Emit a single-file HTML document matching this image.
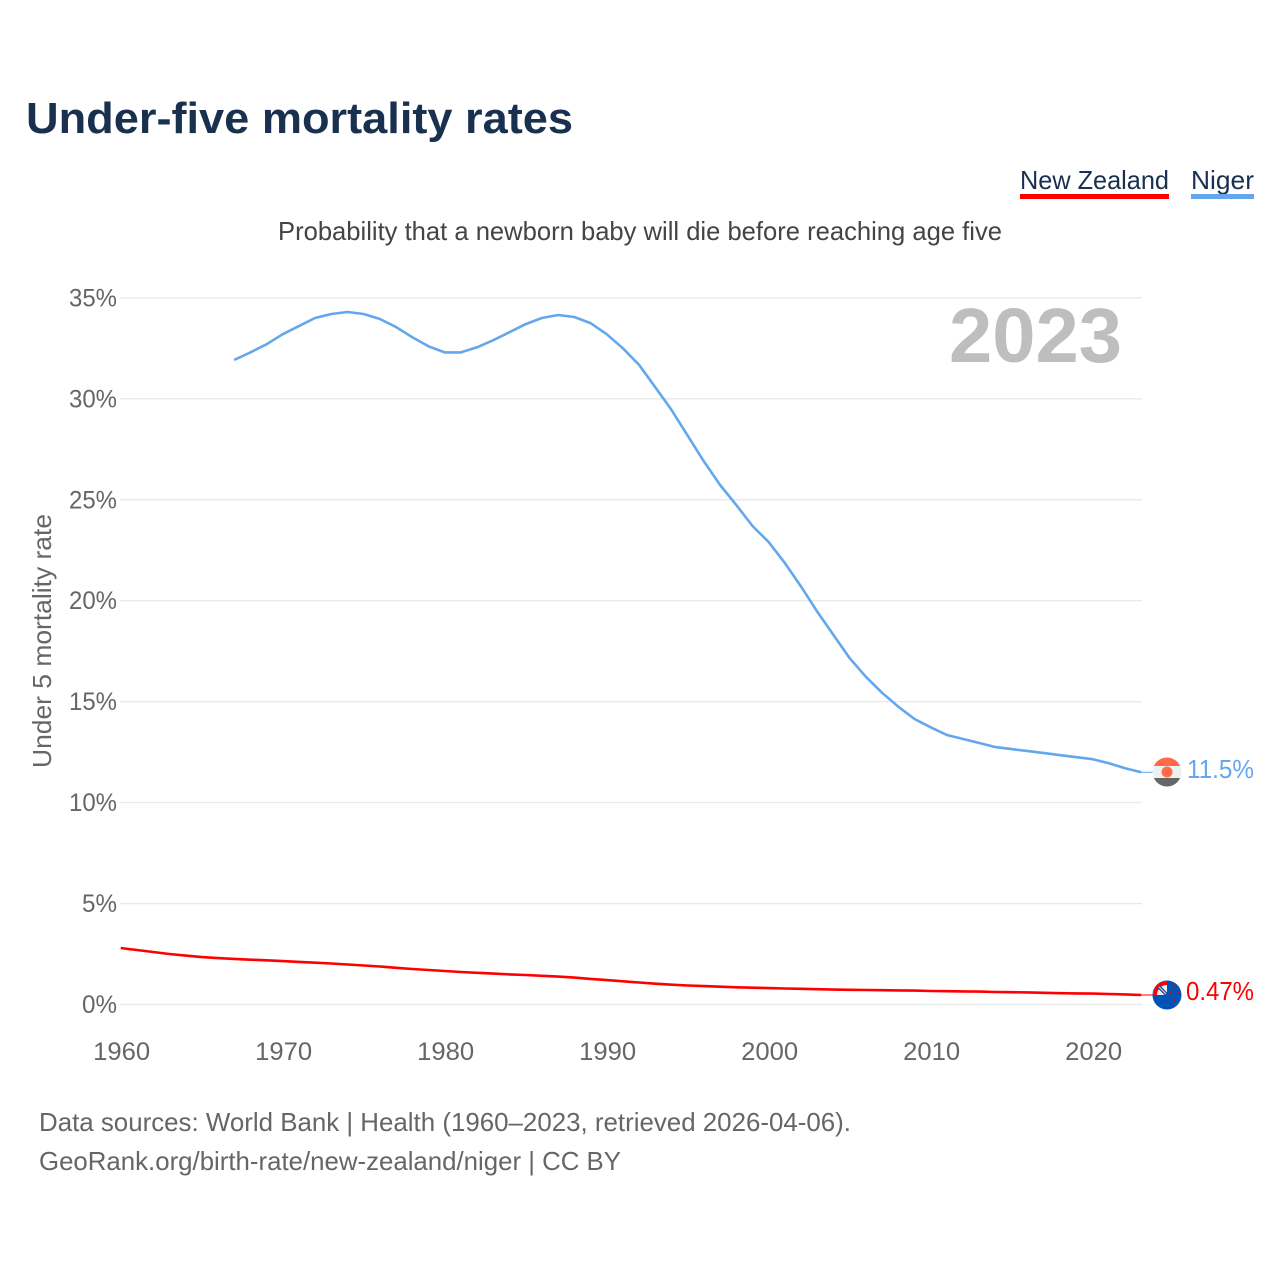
<!DOCTYPE html>
<html>
<head>
<meta charset="utf-8">
<title>Under-five mortality rates</title>
<style>
html,body{margin:0;padding:0;background:#fff;width:1280px;height:1280px;overflow:hidden}
svg{display:block;font-family:"Liberation Sans",sans-serif}
</style>
</head>
<body>
<svg id="chart" width="1280" height="1280" viewBox="0 0 1280 1280">
  <rect width="1280" height="1280" fill="#fff"/>
  <text x="26" y="133" font-size="44" font-weight="700" fill="#19304f" textLength="547" lengthAdjust="spacingAndGlyphs">Under-five mortality rates</text>

  <g>
    <text x="1020" y="189" font-size="26" fill="#19304f" textLength="149" lengthAdjust="spacingAndGlyphs">New Zealand</text>
    <rect x="1020" y="194" width="149" height="5" fill="#ff0000"/>
  </g>
  <g>
    <text x="1191" y="189" font-size="26" fill="#19304f" textLength="63" lengthAdjust="spacingAndGlyphs">Niger</text>
    <rect x="1191" y="194" width="63" height="5" fill="#64a7ec"/>
  </g>

  <text x="278" y="240" font-size="26" fill="#444" textLength="724" lengthAdjust="spacingAndGlyphs">Probability that a newborn baby will die before reaching age five</text>

  <g id="grid"></g>
  <text x="1122" y="362" font-size="77" font-weight="700" fill="#bdbebf" text-anchor="end" textLength="173" lengthAdjust="spacingAndGlyphs">2023</text>
  <g id="yticks"></g>
  <g id="xticks"></g>
  <text transform="translate(51,641) rotate(-90)" font-size="26" fill="#666" text-anchor="middle" textLength="254" lengthAdjust="spacingAndGlyphs">Under 5 mortality rate</text>

  <g id="series"></g>

  <defs>
    <clipPath id="clip-ne"><circle cx="1167" cy="772" r="14.5"/></clipPath>
    <clipPath id="clip-nz"><circle cx="1167" cy="995" r="14.5"/></clipPath>
  </defs>

  <g clip-path="url(#clip-ne)">
    <rect x="1150" y="757" width="34" height="9" fill="#ff6b4a"/>
    <rect x="1150" y="766" width="34" height="12" fill="#f0f0f0"/>
    <rect x="1150" y="778" width="34" height="10" fill="#666"/>
    <circle cx="1167" cy="772" r="5.5" fill="#ff6b4a"/>
  </g>
  <g clip-path="url(#clip-nz)">
    <rect x="1150" y="978" width="34" height="34" fill="#0052b4"/>
    <path d="M1167 995V981A14 14 0 0 0 1153 995Z" fill="#f0f0f0"/>
    <path d="M1155 995A12 12 0 0 1 1167 983" fill="none" stroke="#ff0000" stroke-width="4"/>
    <path d="M1159 987L1167 995" stroke="#0052b4" stroke-width="3.5"/>
    <path d="M1159 987L1166 994" stroke="#f2b8b8" stroke-width="1.2"/>
    <circle cx="1174" cy="987" r="1.2" fill="#d80027"/>
    <circle cx="1171" cy="993" r="1.2" fill="#d80027"/>
    <circle cx="1178" cy="992" r="1.2" fill="#d80027"/>
    <circle cx="1174" cy="1000" r="1.2" fill="#d80027"/>
  </g>

  <text x="1254" y="778" font-size="26" fill="#64a7ec" text-anchor="end" textLength="67" lengthAdjust="spacingAndGlyphs">11.5%</text>
  <text x="1254" y="1000" font-size="26" fill="#ff0000" text-anchor="end" textLength="68" lengthAdjust="spacingAndGlyphs">0.47%</text>

  <text x="39" y="1131" font-size="26" fill="#666" textLength="812" lengthAdjust="spacingAndGlyphs">Data sources: World Bank | Health (1960–2023, retrieved 2026-04-06).</text>
  <text x="39" y="1170" font-size="26" fill="#666" textLength="582" lengthAdjust="spacingAndGlyphs">GeoRank.org/birth-rate/new-zealand/niger | CC BY</text>
</svg>
<script>
const yTickValues = [0, 5, 10, 15, 20, 25, 30, 35];
const xTickValues = [1960, 1970, 1980, 1990, 2000, 2010, 2020];
const nigerYears = [1967,1968,1969,1970,1971,1972,1973,1974,1975,1976,1977,1978,1979,1980,1981,1982,1983,1984,1985,1986,1987,1988,1989,1990,1991,1992,1993,1994,1995,1996,1997,1998,1999,2000,2001,2002,2003,2004,2005,2006,2007,2008,2009,2010,2011,2012,2013,2014,2015,2016,2017,2018,2019,2020,2021,2022,2023];
const nigerValues = [31.92,32.3,32.7,33.2,33.6,34.0,34.2,34.3,34.2,33.95,33.55,33.05,32.6,32.3,32.3,32.55,32.9,33.3,33.7,34.0,34.15,34.05,33.75,33.2,32.5,31.68,30.57,29.45,28.17,26.9,25.73,24.74,23.7,22.9,21.86,20.7,19.45,18.3,17.15,16.23,15.44,14.75,14.14,13.73,13.35,13.15,12.95,12.75,12.65,12.55,12.45,12.35,12.25,12.15,11.95,11.7,11.5];
const nzYears = [1960,1961,1962,1963,1964,1965,1966,1967,1968,1969,1970,1971,1972,1973,1974,1975,1976,1977,1978,1979,1980,1981,1982,1983,1984,1985,1986,1987,1988,1989,1990,1991,1992,1993,1994,1995,1996,1997,1998,1999,2000,2001,2002,2003,2004,2005,2006,2007,2008,2009,2010,2011,2012,2013,2014,2015,2016,2017,2018,2019,2020,2021,2022,2023];
const nzValues = [2.8,2.7,2.6,2.5,2.42,2.35,2.3,2.26,2.22,2.19,2.15,2.11,2.07,2.03,1.98,1.93,1.88,1.82,1.76,1.71,1.66,1.61,1.57,1.53,1.49,1.46,1.42,1.38,1.33,1.27,1.21,1.15,1.09,1.03,0.98,0.94,0.91,0.88,0.85,0.83,0.81,0.79,0.78,0.76,0.74,0.73,0.72,0.71,0.70,0.69,0.67,0.66,0.65,0.64,0.62,0.61,0.60,0.58,0.56,0.55,0.54,0.52,0.50,0.47];

const NS = 'http://www.w3.org/2000/svg';
const xScale = v => 120.7 + (v - 1960) * 16.2;
const yScale = v => 1004.5 - v * 20.19;

function make(tag, attrs, parent, text) {
  const el = document.createElementNS(NS, tag);
  for (const k in attrs) el.setAttribute(k, attrs[k]);
  if (text !== undefined) el.textContent = text;
  parent.appendChild(el);
  return el;
}

const gridG = document.getElementById('grid');
const yG = document.getElementById('yticks');
const xG = document.getElementById('xticks');
const seriesG = document.getElementById('series');

yTickValues.forEach(v => {
  const line = make('line', {x1: 120, x2: 1142, y1: yScale(v), y2: yScale(v), stroke: '#eaeaea', 'stroke-width': 1.4}, gridG);
  
  
  const label = make('text', {x: 117, y: yScale(v) + 8.5, 'font-size': 25, fill: '#666', 'text-anchor': 'end', textLength: v < 10 ? 35 : 48, lengthAdjust: 'spacingAndGlyphs'}, yG, v + '%');
  
  
});

xTickValues.forEach(v => {
  const label = make('text', {x: xScale(v) + 1, y: 1060, 'font-size': 25, fill: '#666', 'text-anchor': 'middle', textLength: 57, lengthAdjust: 'spacingAndGlyphs'}, xG, String(v));
  
  
});

function pathFrom(years, values) {
  return years.map((yr, i) => (i ? 'L' : 'M') + xScale(yr).toFixed(1) + ' ' + yScale(values[i]).toFixed(1)).join('');
}

const nzLine = make('path', {d: pathFrom(nzYears, nzValues), fill: 'none', stroke: '#ff0000', 'stroke-width': 2.6, 'stroke-linejoin': 'round'}, seriesG);



const nigerLine = make('path', {d: pathFrom(nigerYears, nigerValues), fill: 'none', stroke: '#64a7ec', 'stroke-width': 2.6, 'stroke-linejoin': 'round'}, seriesG);



const nzLast = nzValues[nzValues.length - 1];
const nigerLast = nigerValues[nigerValues.length - 1];
const nzConn = make('line', {x1: xScale(2023), x2: 1153, y1: yScale(nzLast), y2: yScale(nzLast), stroke: '#ff0000', 'stroke-width': 1}, seriesG);


const nigerConn = make('line', {x1: xScale(2023), x2: 1153, y1: yScale(nigerLast), y2: yScale(nigerLast), stroke: '#64a7ec', 'stroke-width': 1}, seriesG);


</script>
</body>
</html>
